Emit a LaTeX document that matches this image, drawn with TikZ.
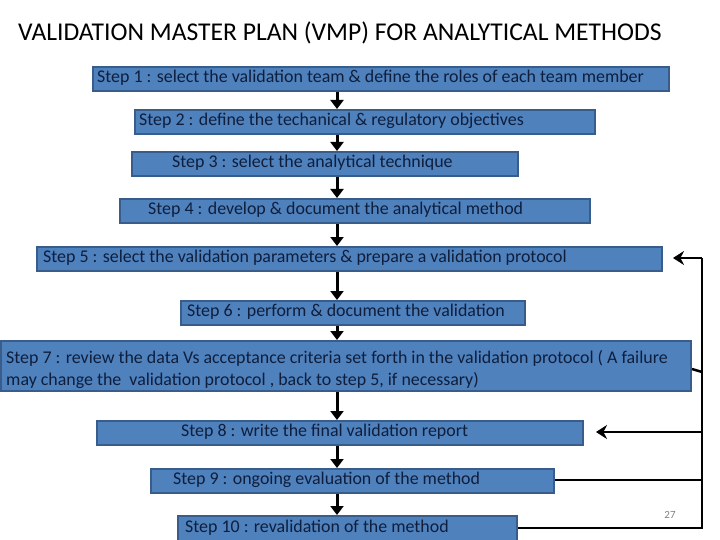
\documentclass[tikz,border=0pt]{standalone}
\usepackage{fontspec}
\setmainfont{Carlito}
\usetikzlibrary{arrows.meta}
\definecolor{boxfill}{HTML}{4F81BD}
\definecolor{boxline}{HTML}{385D8A}
\definecolor{txt}{HTML}{0F1E3C}
\begin{document}
\begin{tikzpicture}[x=1pt,y=-1pt,
  stepbox/.style={draw=boxline,line width=2pt,fill=boxfill,inner sep=0pt,anchor=north west},
  steptext/.style={anchor=west,inner sep=0pt,text=txt,font=\fontsize{17.9}{22}\selectfont},
  flow/.style={line width=3pt,-{Triangle[length=9pt,width=13pt]}},
  fb/.style={line width=2.5pt},
  fbarrow/.style={line width=2.5pt,-{Stealth[length=11pt,width=14pt]}}]
\useasboundingbox (0,0) rectangle (720,540);
\node[anchor=west,inner sep=0pt,font=\fontsize{25.6}{30}\selectfont] (title) at (18,33) {VALIDATION MASTER PLAN (VMP) FOR ANALYTICAL METHODS};
\node[stepbox,minimum width=576pt,minimum height=24pt] (b1) at (92,66) {};
\node[stepbox,minimum width=460pt,minimum height=24pt] (b2) at (134,109) {};
\node[stepbox,minimum width=386pt,minimum height=24pt] (b3) at (131,151) {};
\node[stepbox,minimum width=470pt,minimum height=24pt] (b4) at (119,198) {};
\node[stepbox,minimum width=625pt,minimum height=24pt] (b5) at (36,246) {};
\node[stepbox,minimum width=344pt,minimum height=24pt] (b6) at (180,300) {};
\node[stepbox,minimum width=690pt,minimum height=50pt] (b7) at (0,340) {};
\node[stepbox,minimum width=486pt,minimum height=24pt] (b8) at (96,420) {};
\node[stepbox,minimum width=403pt,minimum height=24pt] (b9) at (150,468) {};
\node[stepbox,minimum width=339pt,minimum height=26pt] (b10) at (177,515) {};
\node[steptext] (t1) at (97,78) {Step 1 : select the validation team \& define the roles of each team member};
\node[steptext] (t2) at (139,121) {Step 2 : define the techanical \& regulatory objectives};
\node[steptext] (t3) at (172,163) {Step 3 : select the analytical technique};
\node[steptext] (t4) at (148,210) {Step 4 : develop \& document the analytical method};
\node[steptext] (t5) at (43,258) {Step 5 : select the validation parameters \& prepare a validation protocol};
\node[steptext] (t6) at (187,312) {Step 6 : perform \& document the validation};
\node[steptext,align=left] (t7) at (6,369) {Step 7 : review the data Vs acceptance criteria set forth in the validation protocol ( A failure\\may change the \ validation protocol , back to step 5, if necessary)};
\node[steptext] (t8) at (181,432) {Step 8 : write the final validation report};
\node[steptext] (t9) at (173,480) {Step 9 : ongoing evaluation of the method};
\node[steptext] (t10) at (185,528) {Step 10 : revalidation of the method};
\node[anchor=center,inner sep=0pt,text=gray,font=\fontsize{11}{13}\selectfont] (pg) at (670,515) {27};
\foreach \a/\b in {b1/b2,b2/b3,b3/b4,b4/b5,b5/b6,b6/b7,b7/b8,b8/b9,b9/b10}
  \draw[flow] (\a.south -| 337,0) -- (\b.north -| 337,0);
\coordinate (r5) at (702,258);
\coordinate (r7) at (702,372);
\coordinate (r8) at (702,432);
\coordinate (r9) at (702,480);
\coordinate (r10) at (702,528);
\draw[fb] (b10.east |- r10) -- (r10) -- (r5);
\draw[fbarrow] (r5) -- ([xshift=10pt]b5.east |- r5);
\draw[fb] (b7.east |- 0,369) -- (r7);
\draw[fbarrow] (r8) -- ([xshift=12pt]b8.east |- r8);
\draw[fb] (b9.east |- r9) -- (r9);
\end{tikzpicture}
\end{document}
